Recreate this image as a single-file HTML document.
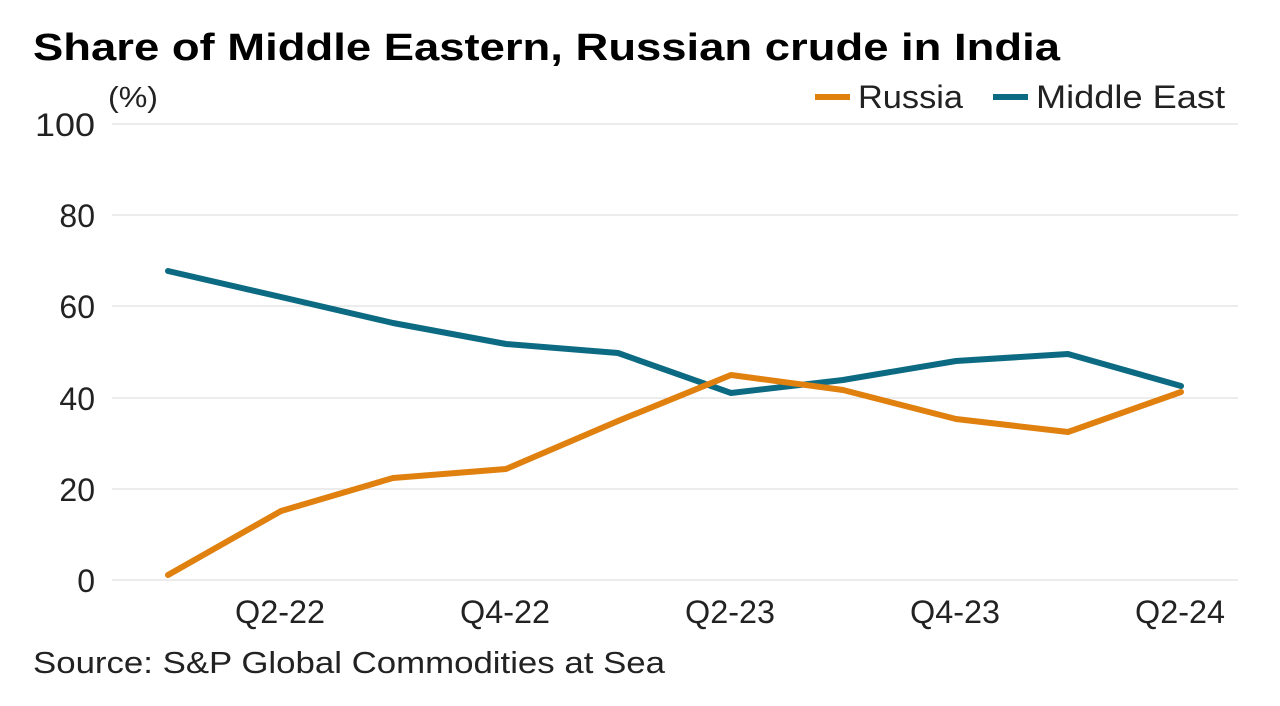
<!DOCTYPE html>
<html><head><style>
html,body{margin:0;padding:0;background:#fff;}
svg{display:block;font-family:"Liberation Sans",sans-serif;}
</style></head><body>
<svg width="1280" height="706" viewBox="0 0 1280 706">
<text x="33" y="60" font-size="38" font-weight="bold" fill="#000" textLength="1027" lengthAdjust="spacingAndGlyphs">Share of Middle Eastern, Russian crude in India</text>
<text x="108" y="107" font-size="29" fill="#222" textLength="50" lengthAdjust="spacingAndGlyphs">(%)</text>
<line x1="815" y1="97" x2="850" y2="97" stroke="#e0800f" stroke-width="6"/>
<text x="858" y="108" font-size="32" fill="#222" textLength="105" lengthAdjust="spacingAndGlyphs">Russia</text>
<line x1="993" y1="97" x2="1028" y2="97" stroke="#0c6b82" stroke-width="6"/>
<text x="1036" y="108" font-size="32" fill="#222" textLength="189" lengthAdjust="spacingAndGlyphs">Middle East</text>
<g stroke="#d9d9d9" stroke-width="1">
<line x1="112" y1="124" x2="1238" y2="124"/>
<line x1="112" y1="215" x2="1238" y2="215"/>
<line x1="112" y1="306" x2="1238" y2="306"/>
<line x1="112" y1="398" x2="1238" y2="398"/>
<line x1="112" y1="489" x2="1238" y2="489"/>
<line x1="112" y1="580" x2="1238" y2="580"/>
</g>
<g font-size="32" fill="#222" text-anchor="end">
<text x="95" y="136" textLength="60" lengthAdjust="spacingAndGlyphs">100</text>
<text x="95" y="227">80</text>
<text x="95" y="318">60</text>
<text x="95" y="410">40</text>
<text x="95" y="501">20</text>
<text x="95" y="592">0</text>
</g>
<g font-size="32" fill="#222" text-anchor="middle">
<text x="280" y="623" textLength="90" lengthAdjust="spacingAndGlyphs">Q2-22</text>
<text x="505" y="623" textLength="90" lengthAdjust="spacingAndGlyphs">Q4-22</text>
<text x="730" y="623" textLength="90" lengthAdjust="spacingAndGlyphs">Q2-23</text>
<text x="955" y="623" textLength="90" lengthAdjust="spacingAndGlyphs">Q4-23</text>
<text x="1180" y="623" textLength="90" lengthAdjust="spacingAndGlyphs">Q2-24</text>
</g>
<polyline fill="none" stroke="#0c6b82" stroke-width="6" stroke-linejoin="round" stroke-linecap="round"
points="168,271 281,297 393,323 506,344 618,353 731,393 843,380 956,361 1068,354 1181,386"/>
<polyline fill="none" stroke="#e0800f" stroke-width="6" stroke-linejoin="round" stroke-linecap="round"
points="168,575 281,511 393,478 506,469 618,421 731,375 843,390 956,419 1068,432 1181,392"/>
<text x="33" y="673" font-size="31" fill="#222" textLength="632" lengthAdjust="spacingAndGlyphs">Source: S&amp;P Global Commodities at Sea</text>
</svg>
</body></html>
